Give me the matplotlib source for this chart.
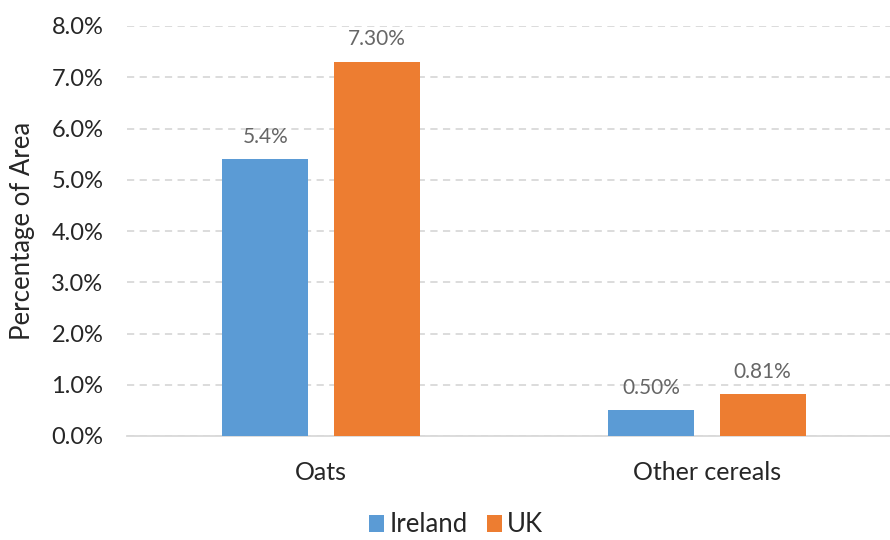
import matplotlib
matplotlib.use("Agg")
import matplotlib.pyplot as plt
import numpy as np
from matplotlib.ticker import FuncFormatter

categories = ["Oats", "Other cereals"]
series_names = ["Ireland", "UK"]
ireland = [5.4, 0.50]
uk = [7.30, 0.81]
ireland_labels = ["5.4%", "0.50%"]
uk_labels = ["7.30%", "0.81%"]
yticks = [0, 1, 2, 3, 4, 5, 6, 7, 8]

plt.rcParams['font.family'] = ['Lato', 'DejaVu Sans']

fig = plt.figure(figsize=(8.9, 5.4), dpi=100)
ax = fig.add_axes([127/890, 1 - 436/540, 1 - 127/890, (436 - 26)/540])

x = np.arange(len(categories))
w = 0.223
off = 0.144
b1 = ax.bar(x - off, ireland, w, color="#5B9BD5", label=series_names[0], zorder=3)
b2 = ax.bar(x + off, uk, w, color="#ED7D31", label=series_names[1], zorder=3)

for bars, labs in ((b1, ireland_labels), (b2, uk_labels)):
    for r, t in zip(bars, labs):
        ax.annotate(t, (r.get_x() + r.get_width()/2, r.get_height()),
                    xytext=(0, 9), textcoords="offset points",
                    ha="center", va="bottom", fontsize=15, color="#666666")

ax.set_xlim(-0.5026, 1.474)
ax.set_ylim(0, 8)
ax.set_yticks(yticks)
ax.yaxis.set_major_formatter(FuncFormatter(lambda v, p: f"{v:.1f}%"))
ax.set_xticks(x)
ax.set_xticklabels(categories)
ax.tick_params(axis="both", length=0, colors="#262626")
ax.tick_params(axis="y", labelsize=17, pad=17)
ax.tick_params(axis="x", labelsize=18, pad=18)
ax.grid(axis="y", color="#D9D9D9", linestyle=(0, (4, 3)), linewidth=1.3, zorder=0)
for s in ["top", "right", "left"]:
    ax.spines[s].set_visible(False)
ax.spines["bottom"].set_color("#D9D9D9")
ax.spines["bottom"].set_linewidth(1.3)
ax.set_ylabel("Percentage of Area", fontsize=18.5, color="#262626")
ax.yaxis.set_label_coords(-0.1376, 0.5)
ax.yaxis.label.set_va("center")

leg = fig.legend(handles=[b1, b2], labels=series_names, loc="center",
                 bbox_to_anchor=(456/890, 1 - 525/540), ncol=2, frameon=False,
                 fontsize=18.5, handlelength=0.6, handleheight=0.6,
                 handletextpad=0.2, columnspacing=0.75, borderpad=0.1)
for t in leg.get_texts():
    t.set_color("#262626")

fig.savefig("out.png", dpi=100)
